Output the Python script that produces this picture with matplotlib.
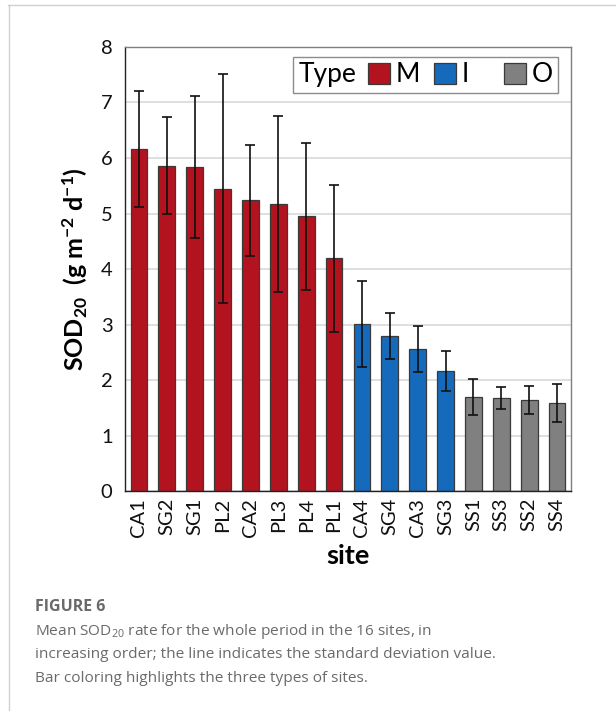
import numpy as np
import matplotlib
matplotlib.use("Agg")
import matplotlib.pyplot as plt
from matplotlib.patches import Patch
from matplotlib.lines import Line2D
from matplotlib.offsetbox import HPacker

plt.rcParams['font.family'] = ['Lato', 'DejaVu Sans']
plt.rcParams['mathtext.default'] = 'regular'

sites = ['CA1', 'SG2', 'SG1', 'PL2', 'CA2', 'PL3', 'PL4', 'PL1',
         'CA4', 'SG4', 'CA3', 'SG3', 'SS1', 'SS3', 'SS2', 'SS4']
sod_mean = [6.16, 5.86, 5.83, 5.45, 5.24, 5.17, 4.95, 4.19,
            3.01, 2.79, 2.56, 2.17, 1.69, 1.67, 1.64, 1.59]
sod_std = [1.04, 0.87, 1.28, 2.07, 1.00, 1.59, 1.32, 1.32,
           0.77, 0.41, 0.41, 0.36, 0.32, 0.20, 0.25, 0.34]
site_type = ['M'] * 8 + ['I'] * 4 + ['O'] * 4
type_names = ['M', 'I', 'O']
type_colors = {'M': '#b3121f', 'I': '#156abb', 'O': '#808080'}

fig = plt.figure(figsize=(6.16, 7.11), dpi=100)
ax = fig.add_axes([0.2029, 0.3094, 0.724, 0.6245])

xpos = np.arange(len(sites))
ax.bar(xpos, sod_mean, width=0.6,
       color=[type_colors[t] for t in site_type],
       edgecolor='#3a3a3a', linewidth=0.9, zorder=2)
ax.errorbar(xpos, sod_mean, yerr=sod_std, fmt='none', ecolor='#111111',
            elinewidth=1.2, capsize=3.5, capthick=1.2, zorder=3)

ax.set_xlim(-0.5, len(sites) - 0.5)
ax.set_ylim(0, 8)
ax.set_yticks(range(0, 9))
ax.set_xticks(xpos)
ax.set_xticklabels(sites, rotation=90)
ax.tick_params(axis='both', length=0, labelsize=14.5, colors='#111111')
ax.tick_params(axis='x', pad=5)
ax.tick_params(axis='y', pad=9)
ax.yaxis.grid(True, color='#d9d9d9', linewidth=1.2, zorder=0)
ax.set_axisbelow(True)

for side in ['left', 'bottom']:
    ax.spines[side].set_color('#222222')
    ax.spines[side].set_linewidth(1.0)
for side in ['top', 'right']:
    ax.spines[side].set_color('#7f7f7f')
    ax.spines[side].set_linewidth(1.0)

ax.set_ylabel('SOD$_{20}$  (g m$^{-2}$ d$^{-1}$)', fontsize=18,
              fontweight='bold', labelpad=8)
ax.set_xlabel('site', fontsize=19.5, fontweight='bold', labelpad=5)

# legend: "Type" sits to the left of the three colour boxes
handles = [Patch(facecolor=type_colors[t], edgecolor='#3a3a3a', linewidth=0.9)
           for t in type_names]
labels = ['M', 'I   ', 'O']
leg = ax.legend(handles, labels, ncol=3, title='Type', loc='upper right',
                bbox_to_anchor=(0.971, 0.977), fontsize=19, title_fontsize=19,
                handlelength=0.83, handleheight=0.83, handletextpad=0.22,
                columnspacing=0.55, borderpad=0.2, borderaxespad=0,
                fancybox=False, framealpha=1)
leg.get_frame().set_edgecolor('#8c8c8c')
leg.get_frame().set_linewidth(1.0)
leg._legend_box = HPacker(pad=leg.borderpad * 19, sep=8, align='center',
                          children=[leg._legend_title_box, leg._legend_handle_box])
leg._legend_box.set_figure(fig)
leg._legend_box.axes = ax
leg._legend_box.set_offset(leg._findoffset)

# caption panel
cap_color = '#6a6a6a'
cap_font = ['Open Sans', 'DejaVu Sans']
fig.text(0.057, 1 - 607 / 711, 'FIGURE 6', fontsize=11.5, fontweight='bold',
         color=cap_color, family=cap_font, va='center')
caption = ['Mean SOD$_{20}$ rate for the whole period in the 16 sites, in',
           'increasing order; the line indicates the standard deviation value.',
           'Bar coloring highlights the three types of sites.']
for i, line in enumerate(caption):
    fig.text(0.057, 1 - (631.5 + 23.3 * i) / 711, line, fontsize=11.1,
             color=cap_color, family=cap_font, va='center')

fig.add_artist(Line2D([8 / 616, 1], [1 - 5 / 711, 1 - 5 / 711],
                      color='#d0d0d0', linewidth=1.0))
fig.add_artist(Line2D([8.5 / 616, 8.5 / 616], [0, 1 - 5 / 711],
                      color='#d0d0d0', linewidth=1.0))

fig.savefig('out.png', dpi=100)
